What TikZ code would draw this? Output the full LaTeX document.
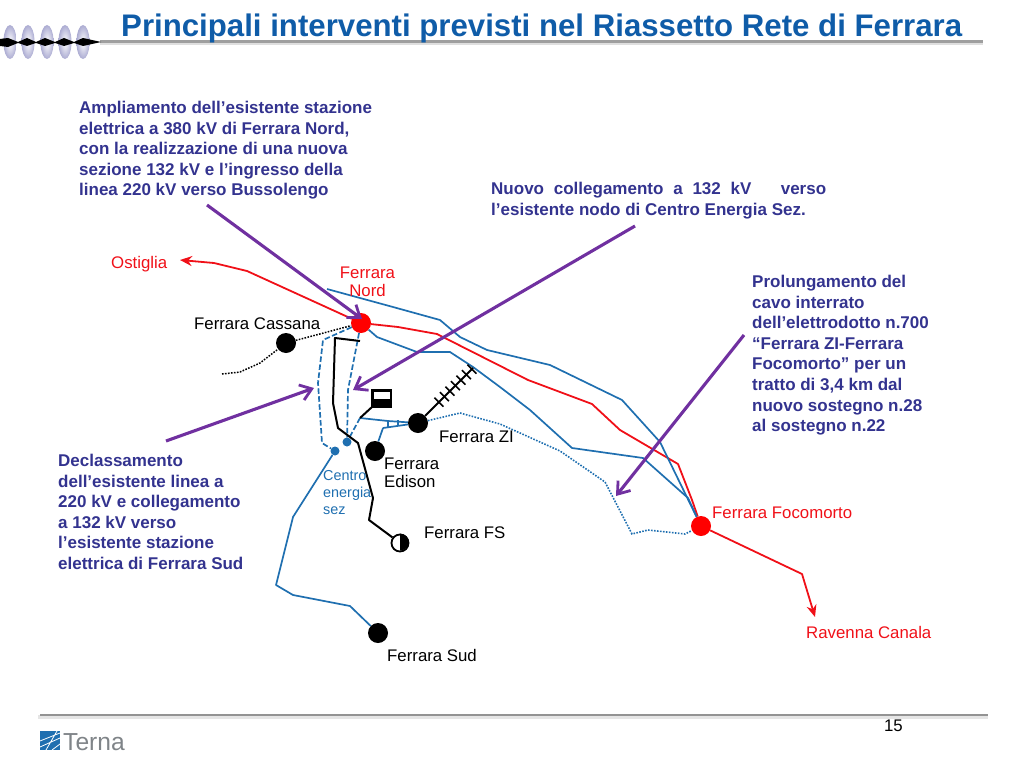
\documentclass[tikz,border=0pt]{standalone}
\usepackage{fontspec}
\setmainfont{Liberation Sans}
\usetikzlibrary{arrows.meta,calc}
\definecolor{titleblue}{HTML}{0F5CA8}
\definecolor{noteblue}{HTML}{33338F}
\definecolor{lineblue}{HTML}{1F6FB0}
\definecolor{purp}{HTML}{7030A0}
\definecolor{redl}{HTML}{F01018}
\definecolor{ternag}{HTML}{7F8488}
\tikzset{
 x=1pt,y=-1pt,
 note/.style={inner sep=0pt,anchor=north west,align=left,text=noteblue,font=\fontsize{17}{20.6}\selectfont\bfseries},
 lab/.style={inner sep=0pt,anchor=base west,font=\fontsize{16.8}{18}\selectfont,text=black},
 redlab/.style={lab,text=redl},
 redline/.style={draw=redl,line width=1.8pt,line join=round},
 blueline/.style={draw=lineblue,line width=1.7pt,line join=round},
 bluedash/.style={draw=lineblue,line width=1.7pt,dash pattern=on 5.5pt off 2.5pt},
 bluedot/.style={draw=lineblue,line width=1.6pt,dash pattern=on 1.6pt off 1.4pt},
 blackl/.style={draw=black,line width=2pt,line join=round},
 callout/.style={draw=purp,line width=3.1pt,-{Straight Barb[length=11pt,width=16pt,line width=2.8pt]}},
 redhead/.style={-{Stealth[length=12pt,width=10pt]}},
 stn/.style={circle,fill=black,inner sep=0pt,minimum width=18.5pt,minimum height=20pt},
 redstn/.style={circle,fill=red,inner sep=0pt,minimum size=20pt},
 smalld/.style={circle,fill=lineblue,inner sep=0pt,minimum size=9pt},
}
\begin{document}
\begin{tikzpicture}
\useasboundingbox (0,0) rectangle (1024,768);
% header
\draw[line width=4pt,draw=gray!25] (100,43) -- (983,43);
\draw[line width=2.2pt,draw=gray!75] (100,41.5) -- (983,41.5);
\foreach \xx in {10,28,47,65,83}{
  \shade[inner color=white,outer color=blue!30!gray!50] (\xx,42) ellipse [x radius=6.5,y radius=17];
}
\fill[black] (0,39) -- (8,38) -- (18,42) -- (27,38) -- (36,42) -- (45,38) -- (55,42) -- (64,38) -- (74,42) -- (83,38) -- (92,40) -- (101,42) -- (92,44) -- (83,46) -- (74,43) -- (64,46) -- (55,43) -- (45,46) -- (36,43) -- (27,46) -- (18,43) -- (8,47) -- (0,46) -- cycle;
\node[inner sep=0pt,anchor=base west,text=titleblue,font=\fontsize{31.2}{34}\selectfont\bfseries] (title) at (121,37) {Principali interventi previsti nel Riassetto Rete di Ferrara};
% footer
\draw[line width=4pt,draw=gray!20] (38,717) -- (988,717);
\draw[line width=1.8pt,draw=gray!85] (40,715) -- (988,715);
\node[inner sep=0pt,anchor=base east,font=\fontsize{16.8}{19}\selectfont] (page) at (903,731) {15};
\fill[lineblue] (40,731) rectangle (60,750);
\draw[white,line width=0.8pt] (40,741) -- (60,733) (40,747) -- (60,738) (46,750) -- (57,731) (52,750) -- (60,744);
\node[inner sep=0pt,anchor=base west,text=ternag,font=\fontsize{24.6}{26}\selectfont] (terna) at (63,750) {Terna};
% stations
\node[redstn] (nord) at (361,323) {};
\node[redstn] (foco) at (701,526) {};
\node[stn] (cassana) at (286,343) {};
\node[stn] (zi) at (418,423) {};
\node[stn] (edison) at (375,451) {};
\node[stn] (sud) at (378,633) {};
\node[circle,draw=black,line width=1.8pt,fill=white,inner sep=0pt,minimum size=17pt] (fs) at (400,543) {};
\fill[black] (fs.north) arc[start angle=90,end angle=-90,radius=8.5pt] -- cycle;
\node[smalld] (c1) at (335,451) {};
\node[smalld] (c2) at (347,442) {};
\coordinate (ostiglia) at (180,260);
\coordinate (ravenna) at (815,617);
\coordinate (blue1s) at (327,289);
\coordinate (tap) at (360,418);
\coordinate (tie) at (383,428);
\coordinate (rail) at (473,368);
\coordinate (dotl) at (222,374);
% red
\draw[redline,redhead] (nord) -- (247,271) -- (214,263) -- (ostiglia);
\draw[redline] (nord) -- (398,327) -- (437,334) -- (528,380) -- (592,404) -- (620,430) -- (678,464) -- (692,500) -- (foco);
\draw[redline,redhead] (foco) -- (802,574) -- (ravenna);
% blue
\draw[blueline] (blue1s) -- (393,307) -- (440,320) -- (460,337) -- (487,350) -- (550,365) -- (622,400) -- (660,442) -- (foco);
\draw[blueline] (nord) -- (377,337) -- (417,352) -- (450,352) -- (473,367) -- (500,387) -- (530,410) -- (572,448) -- (643,458) -- (688,498) -- (foco);
\draw[blueline] (c1) -- (293,517) -- (276,585) -- (293,595) -- (350,606) -- (sud);
\draw[blueline] (tap) -- (388,421) -- (zi);
\draw[blueline] (tie) -- (zi);
\draw[blueline] (388,421) -- (388,427) (398,420) -- (398,426);
\draw[blueline] (tie) -- (edison);
% dashed
\draw[bluedash] (nord) -- (323,340) -- (318,383) -- (322,443) -- (c1);
\draw[bluedash] (nord) -- (348,390) -- (c2);
\draw[bluedash] (tap) -- (c2);
% dotted
\draw[bluedot] (zi) -- (460,413) -- (500,424) -- (560,451) -- (605,482) -- (632,534) -- (648,530) -- (685,534) -- (foco);
\draw[draw=black,line width=1.5pt,dash pattern=on 1.6pt off 1.4pt] (dotl) -- (240,372) -- (260,363) -- (cassana) -- (nord);
% black
\draw[blackl] (nord) ++(-1,18) -- (335,338) -- (333,403) -- (338,428) -- (358,443) -- (373,498) -- (369,520) -- (fs);
\draw[blackl] (tap) -- (372,407);
\draw[blackl] (zi) -- (rail);
\foreach \t in {0.38,0.48,0.58,0.68,0.78,0.88,0.98}{
  \draw[black,line width=1.5pt] ($(zi)!\t!(rail)+(-4.5,-4.5)$) -- ($(zi)!\t!(rail)+(4.5,4.5)$);
}
% plant
\fill[black] (371,389) rectangle (392,408);
\fill[white] (373.5,391.5) rectangle (389.5,399);
% labels
\node[redlab] (lostiglia) at (111,268) {Ostiglia};
\node[redlab,anchor=base,align=center] (lnord) at (367.5,296) {Ferrara\\Nord};
\node[lab] (lcass) at (194,329) {Ferrara Cassana};
\node[lab] (lzi) at (439,442) {Ferrara ZI};
\node[lab,align=left,anchor=base west] (led) at (384,487) {Ferrara\\Edison};
\node[lab] (lfs) at (424,538) {Ferrara FS};
\node[lab] (lsud) at (387,661) {Ferrara Sud};
\node[redlab] (lfoco) at (712,518) {Ferrara Focomorto};
\node[redlab] (lrav) at (806,638) {Ravenna Canala};
\node[inner sep=0pt,anchor=base west,align=left,text=lineblue,font=\fontsize{14.4}{17}\selectfont] (lcen) at (323,514) {Centro\\energia\\sez};
% notes
\node[note] (n1) at (79,101) {Ampliamento dell’esistente stazione\\elettrica a 380 kV di Ferrara Nord,\\con la realizzazione di una nuova\\sezione 132 kV e l’ingresso della\\linea 220 kV verso Bussolengo};
\node[note] (n2) at (491,182) {\makebox[335pt][s]{Nuovo collegamento a 132 kV \ \ verso}\\l’esistente nodo di Centro Energia Sez.};
\node[note] (n3) at (752,275) {Prolungamento del\\cavo interrato\\dell’elettrodotto n.700\\“Ferrara ZI-Ferrara\\Focomorto” per un\\tratto di 3,4 km dal\\nuovo sostegno n.28\\al sostegno n.22};
\node[note] (n4) at (58,454) {Declassamento\\dell’esistente linea a\\220 kV e collegamento\\a 132 kV verso\\l’esistente stazione\\elettrica di Ferrara Sud};
% callouts
\coordinate (a1) at (207,205); \coordinate (a2) at (362,319);
\coordinate (b1) at (635,226); \coordinate (b2) at (353,390);
\coordinate (c1s) at (166,441); \coordinate (c2s) at (314,388);
\coordinate (d1) at (744,335); \coordinate (d2) at (616,496);
\draw[callout] (a1) -- (a2);
\draw[callout] (b1) -- (b2);
\draw[callout] (c1s) -- (c2s);
\draw[callout] (d1) -- (d2);
\end{tikzpicture}
\end{document}
